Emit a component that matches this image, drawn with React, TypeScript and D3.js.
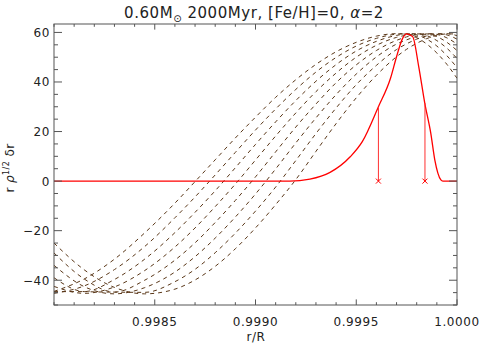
import React from 'react';
import * as d3 from 'd3';

const W = 481;
const H = 354;
const PL = 54, PR = 457, PT = 24, PB = 305;

const xDomain = [0.998, 1.0];
const yDomain = [-50, 63.4];
const xMajor = [0.9985, 0.999, 0.9995, 1.0];
const xMajorLabels = ['0.9985', '0.9990', '0.9995', '1.0000'];
const yMajor = [-40, -20, 0, 20, 40, 60];
const yMajorLabels = ['\u221240', '\u221220', '0', '20', '40', '60'];

const rGrid = [0.99800, 0.99815, 0.99830, 0.99845, 0.99860, 0.99870, 0.99880, 0.99890, 0.99900, 0.99910, 0.99920, 0.99930, 0.99940, 0.99950, 0.99960, 0.99970, 0.99975, 0.99980, 0.99985, 0.99990, 0.99995, 1.00000];

const dash0 = [-44.5, -39.5, -31.5, -20.9, -8.9, -0.2, 8.6, 17.4, 25.8, 33.8, 40.9, 47.1, 52.2, 56.0, 58.5, 59.5, 59.2, 57.9, 55.3, 51.7, 47.1, 41.5];
const dash1 = [-45.3, -42.3, -35.7, -26.4, -14.8, -6.4, 2.5, 11.6, 20.6, 29.1, 37.0, 44.0, 49.9, 54.5, 57.6, 59.3, 59.5, 59.0, 57.3, 54.5, 50.6, 45.8];
const dash2 = [-44.6, -44.6, -39.7, -31.5, -20.8, -12.6, -3.9, 5.4, 14.8, 23.9, 32.5, 40.3, 47.0, 52.5, 56.4, 58.8, 59.4, 59.5, 58.7, 56.7, 53.6, 49.5];
const dash3 = [-42.5, -45.3, -42.7, -36.1, -26.6, -18.9, -10.3, -1.2, 8.5, 18.2, 27.5, 36.1, 43.6, 50.0, 54.8, 58.0, 58.9, 59.4, 59.4, 58.3, 56.0, 52.7];
const dash4 = [-39.0, -44.6, -44.8, -40.0, -31.9, -24.9, -16.7, -7.8, 1.7, 11.8, 21.8, 31.1, 39.7, 46.9, 52.7, 56.8, 58.2, 59.1, 59.5, 59.2, 57.8, 55.3];
const dash5 = [-34.0, -42.6, -45.5, -43.0, -36.7, -30.5, -23.0, -14.5, -5.2, 4.9, 15.4, 25.5, 34.9, 43.2, 50.1, 55.3, 57.0, 58.4, 59.2, 59.5, 59.0, 57.3];
const dash6 = [-29.0, -39.5, -44.8, -44.9, -40.6, -35.6, -28.9, -21.0, -12.1, -2.4, 8.3, 19.2, 29.5, 38.9, 46.7, 53.1, 55.4, 57.3, 58.6, 59.3, 59.5, 58.7];
const dash7 = [-25.0, -35.8, -42.9, -45.5, -43.6, -39.9, -34.4, -27.3, -18.9, -9.5, 0.6, 12.0, 23.2, 33.6, 42.7, 50.2, 53.2, 55.6, 57.5, 58.8, 59.4, 59.4];
const dashSeries = [dash0, dash1, dash2, dash3, dash4, dash5, dash6, dash7];

const redR = [0.99800, 0.99917, 0.99927, 0.99937, 0.99947, 0.99953, 0.99961, 0.99967, 0.99970, 0.99973, 0.99975, 0.99978, 0.99981, 0.99984, 0.99987, 0.99989, 0.99992, 0.99993, 1.00000];
const redV = [0, 0, 0.8, 3.5, 9.8, 15.9, 30, 41.5, 50.2, 57.6, 59.4, 58.3, 46.2, 31.5, 19.3, 8.5, 0.5, 0, 0];

const markR = [0.99961, 0.999841];
const markTop = [30, 31.5];

const FONT = 'DejaVu Sans, sans-serif';

export default function App() {
  const x = d3.scaleLinear().domain(xDomain).range([PL, PR]);
  const y = d3.scaleLinear().domain(yDomain).range([PB, PT]);

  const dashLine = d3.line<number>()
    .x((_, i) => x(rGrid[i]))
    .y((d) => y(d))
    .curve(d3.curveMonotoneX);

  const redLine = d3.line<number>()
    .x((_, i) => x(redR[i]))
    .y((d) => y(d))
    .curve(d3.curveMonotoneX);

  const xMinor = d3.range(0, 21).map((i) => 0.998 + i * 0.0001);
  const yMinor = d3.range(0, 23).map((i) => -50 + i * 5).filter((v) => v <= 63.4);

  const axisColor = '#555';
  const xMajLen = 5.6, xMinLen = 2.8, yMajLen = 8, yMinLen = 4;
  const isMajorX = (v: number) => xMajor.some((m) => Math.abs(m - v) < 1e-9);
  const isMajorY = (v: number) => yMajor.includes(v);

  return (
    <svg width={W} height={H} style={{ position: 'absolute', left: 0, top: 0, background: '#fff' }}>
      <defs>
        <clipPath id="plotclip">
          <rect x={PL} y={PT} width={PR - PL} height={PB - PT} />
        </clipPath>
      </defs>
      <rect x={0} y={0} width={W} height={H} fill="#fff" />

      <g clipPath="url(#plotclip)">
        {dashSeries.map((s, k) => (
          <path key={k} d={dashLine(s) || ''} fill="none" stroke="#5a3718" strokeWidth={1} strokeDasharray="4,4" />
        ))}
        <path d={redLine(redV) || ''} fill="none" stroke="#ff0000" strokeWidth={1.3} />
        {markR.map((r, k) => (
          <g key={k}>
            <line x1={x(r)} x2={x(r)} y1={y(0)} y2={y(markTop[k])} stroke="#ff3030" strokeWidth={1} />
            <path
              d={`M${x(r) - 2.5},${y(0) - 2.5}L${x(r) + 2.5},${y(0) + 2.5}M${x(r) - 2.5},${y(0) + 2.5}L${x(r) + 2.5},${y(0) - 2.5}`}
              stroke="#ff0000"
              strokeWidth={1}
            />
          </g>
        ))}
      </g>

      <rect x={PL} y={PT} width={PR - PL} height={PB - PT} fill="none" stroke={axisColor} strokeWidth={1} />

      {xMinor.map((v, i) => {
        const len = isMajorX(v) ? xMajLen : xMinLen;
        const px = x(v);
        return (
          <g key={'xt' + i}>
            <line x1={px} x2={px} y1={PB} y2={PB - len} stroke={axisColor} />
            <line x1={px} x2={px} y1={PT} y2={PT + len} stroke={axisColor} />
          </g>
        );
      })}
      {yMinor.map((v, i) => {
        const len = isMajorY(v) ? yMajLen : yMinLen;
        const py = y(v);
        return (
          <g key={'yt' + i}>
            <line x1={PL} x2={PL + len} y1={py} y2={py} stroke={axisColor} />
            <line x1={PR} x2={PR - len} y1={py} y2={py} stroke={axisColor} />
          </g>
        );
      })}

      {xMajor.map((v, i) => (
        <text key={'xl' + i} x={x(v)} y={326} textAnchor="middle" fontFamily={FONT} fontSize={12} letterSpacing={0.6} fill="#222">
          {xMajorLabels[i]}
        </text>
      ))}
      {yMajor.map((v, i) => (
        <text key={'yl' + i} x={50} y={y(v) + 4.5} textAnchor="end" fontFamily={FONT} fontSize={12} letterSpacing={0.6} fill="#222">
          {yMajorLabels[i]}
        </text>
      ))}

      <text x={256} y={341} textAnchor="middle" fontFamily={FONT} fontSize={12} letterSpacing={0.6} fill="#222">r/R</text>

      <text transform="translate(14,168) rotate(-90)" textAnchor="middle" fontFamily={FONT} fontSize={12} letterSpacing={0.4} fill="#222">
        r <tspan fontStyle="italic">ρ</tspan>
        <tspan fontSize={8} dy={-5}>1/2</tspan>
        <tspan dy={5}> δr</tspan>
      </text>

      <text x={254} y={18} textAnchor="middle" fontFamily={FONT} fontSize={15} letterSpacing={0.55} fill="#222">
        0.60M<tspan fontSize={10} dy={4}>⊙</tspan>
        <tspan dy={-4}> 2000Myr, [Fe/H]=0, </tspan>
        <tspan fontStyle="italic">α</tspan>=2
      </text>
    </svg>
  );
}
